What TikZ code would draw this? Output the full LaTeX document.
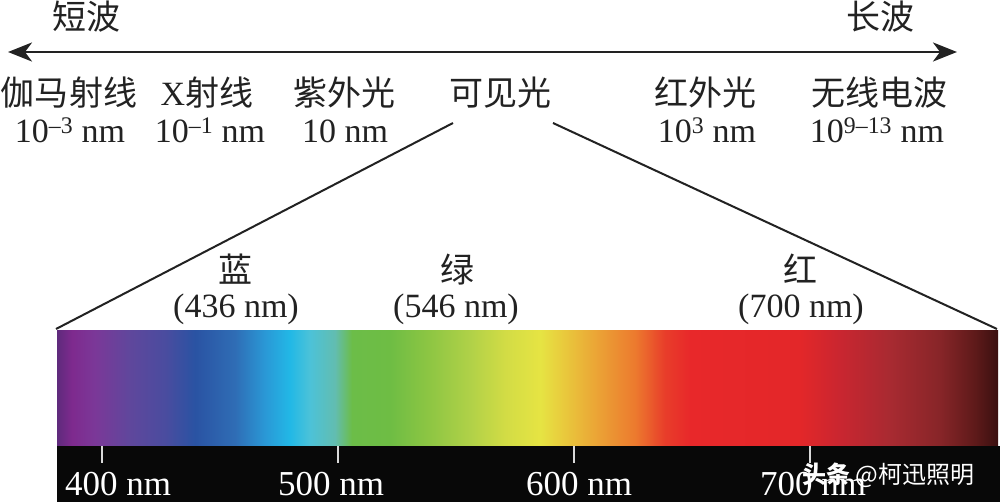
\documentclass[tikz,border=0pt]{standalone}
\usepackage{fontspec}
\setmainfont{Liberation Serif}
\newfontfamily\cjk{Noto Sans CJK SC}
\usetikzlibrary{arrows.meta}
\definecolor{ink}{HTML}{222222}
\definecolor{s01}{HTML}{5E2A7C}
\definecolor{s02}{HTML}{7E2A8E}
\definecolor{s03}{HTML}{7B3898}
\definecolor{s04}{HTML}{5F479C}
\definecolor{s05}{HTML}{4A4C9F}
\definecolor{s06}{HTML}{2A53A3}
\definecolor{s07}{HTML}{2F6DB5}
\definecolor{s08}{HTML}{2A98D6}
\definecolor{s09}{HTML}{22B8E6}
\definecolor{s10}{HTML}{4CC2D8}
\definecolor{s11}{HTML}{62BDB0}
\definecolor{s12}{HTML}{6CBD48}
\definecolor{s13}{HTML}{6EBD44}
\definecolor{s14}{HTML}{8EC643}
\definecolor{s15}{HTML}{B0D148}
\definecolor{s16}{HTML}{D2DC45}
\definecolor{s17}{HTML}{E6E443}
\definecolor{s18}{HTML}{E9C83C}
\definecolor{s19}{HTML}{EBA035}
\definecolor{s20}{HTML}{EC7A2E}
\definecolor{s21}{HTML}{E83D2A}
\definecolor{s22}{HTML}{E8282A}
\definecolor{s23}{HTML}{E32729}
\definecolor{s24}{HTML}{C92630}
\definecolor{s25}{HTML}{A82A31}
\definecolor{s26}{HTML}{872528}
\definecolor{s27}{HTML}{5E1A1A}
\definecolor{s28}{HTML}{3A1010}
\pgfdeclarehorizontalshading{spectrum}{100bp}{%
color(0bp)=(s01); color(25bp)=(s01); color(25.797bp)=(s02); color(27.019bp)=(s03);
color(28.879bp)=(s04); color(30.739bp)=(s05); color(32.333bp)=(s06); color(34.458bp)=(s07);
color(36.052bp)=(s08); color(37.381bp)=(s09); color(38.443bp)=(s10); color(39.772bp)=(s11);
color(40.675bp)=(s12); color(42.694bp)=(s13); color(44.819bp)=(s14); color(46.944bp)=(s15);
color(48.804bp)=(s16); color(50.664bp)=(s17); color(51.993bp)=(s18); color(53.852bp)=(s19);
color(55.712bp)=(s20); color(57.306bp)=(s21); color(58.634bp)=(s22); color(64.479bp)=(s23);
color(66.605bp)=(s24); color(69.262bp)=(s25); color(71.919bp)=(s26); color(73.778bp)=(s27);
color(75bp)=(s28); color(100bp)=(s28)}
\tikzset{
  lab/.style={inner sep=0pt, anchor=base, text=ink, font=\fontsize{34}{34}\selectfont},
  cj/.style={lab, font=\fontsize{34}{34}\selectfont\cjk},
  wl/.style={inner sep=0pt, anchor=base west, text=white, font=\fontsize{35}{35}\selectfont},
  axis/.style={draw=ink, line width=2.6pt, {Stealth[length=24pt,width=19pt,inset=7pt]}-{Stealth[length=24pt,width=19pt,inset=7pt]}},
  link/.style={draw=ink, line width=2pt},
  tickmark/.style={draw=black!15, line width=2pt}
}
\begin{document}
\begin{tikzpicture}[x=1pt,y=-1pt]
\useasboundingbox (0,0) rectangle (1000,502);
\fill[white] (0,0) rectangle (1000,502);
% top arrow
\node[cj] (short) at (86,30) {短波};
\node[cj] (long) at (880,30) {长波};
\coordinate (aL) at (8,52);
\coordinate (aR) at (957,52);
\draw[axis] (aL) -- (aR);
% band names
\node[cj] (gamma) at (69,106) {伽马射线};
\node[lab] (xray) at (207,106) {X{\cjk 射线}};
\node[cj] (uv) at (344,106) {紫外光};
\node[cj] (vis) at (500,106) {可见光};
\node[cj] (ir) at (705,106) {红外光};
\node[cj] (radio) at (879,106) {无线电波};
\node[lab] (gammaw) at (70,143) {10\textsuperscript{–3} nm};
\node[lab] (xrayw) at (210,143) {10\textsuperscript{–1} nm};
\node[lab] (uvw) at (345,143) {10 nm};
\node[lab] (irw) at (707,143) {10\textsuperscript{3} nm};
\node[lab] (radiow) at (877,143) {10\textsuperscript{9–13} nm};
% spectrum bar
\shade[shading=spectrum] (57,330) rectangle (998,446);
\fill[black!97] (57,446) rectangle (1000,502);
\coordinate (bl) at (56,329);
\coordinate (br) at (997,329);
\coordinate (vl) at (453,123);
\coordinate (vr) at (553,123);
\draw[link] (vl) -- (bl);
\draw[link] (vr) -- (br);
% colour names
\node[cj] (blue) at (235,283) {蓝};
\node[lab] (bluew) at (236,317) {(436 nm)};
\node[cj] (green) at (457,283) {绿};
\node[lab] (greenw) at (456,317) {(546 nm)};
\node[cj] (red) at (800,283) {红};
\node[lab] (redw) at (801,317) {(700 nm)};
% ticks and scale
\foreach \t in {102,338,574,810} \draw[tickmark] (\t,446) -- (\t,463);
\node[wl] (n400) at (65,495) {400 nm};
\node[wl] (n500) at (278,495) {500 nm};
\node[wl] (n600) at (526,495) {600 nm};
\node[wl] (n700) at (760,495) {700 nm};
% watermark
\node[inner sep=0pt, anchor=base west, text=white, font=\fontsize{24}{24}\selectfont\cjk] (wm) at (802,483) {\textbf{头条} @柯迅照明};
\end{tikzpicture}
\end{document}
